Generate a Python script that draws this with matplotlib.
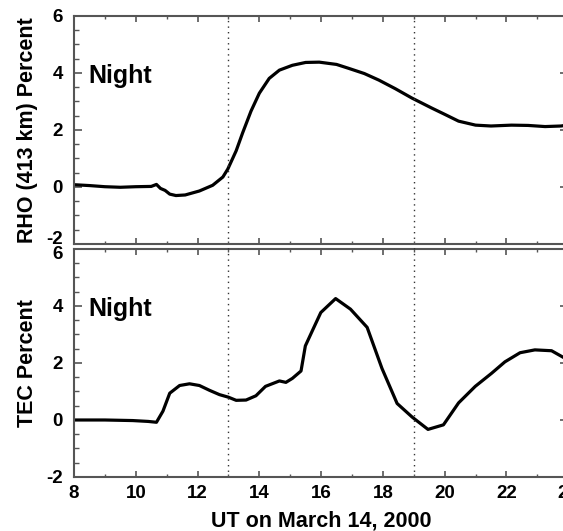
import numpy as np
import matplotlib
matplotlib.use("Agg")
import matplotlib.pyplot as plt
import matplotlib.transforms as mtransforms
from matplotlib.lines import Line2D
from matplotlib.ticker import MultipleLocator

plt.rcParams['font.family'] = ['Liberation Sans', 'DejaVu Sans']
plt.rcParams['font.weight'] = 'bold'
plt.rcParams['axes.unicode_minus'] = False

# RHO (413 km) percent change
rho_ut = [8.0, 8.5, 9.0, 9.5, 10.0, 10.5, 10.67, 10.8, 10.95, 11.1, 11.3, 11.6,
          12.06, 12.49, 12.82, 12.98, 13.25, 13.46, 13.73, 14.0, 14.32, 14.65,
          15.07, 15.5, 15.94, 16.5, 16.9, 17.4, 17.87, 18.4, 18.94, 19.58, 20.0,
          20.45, 21.0, 21.5, 22.16, 22.7, 23.25, 23.77, 24.0]
rho_pct = [0.08, 0.05, 0.01, -0.01, 0.01, 0.02, 0.09, -0.05, -0.12, -0.25, -0.3, -0.28,
           -0.14, 0.06, 0.35, 0.63, 1.27, 1.9, 2.66, 3.29, 3.81, 4.1,
           4.27, 4.37, 4.38, 4.3, 4.16, 3.98, 3.75, 3.45, 3.12, 2.77, 2.55,
           2.31, 2.17, 2.14, 2.17, 2.16, 2.12, 2.14, 2.18]

# TEC percent change
tec_ut = [8.0, 9.0, 9.9, 10.4, 10.67, 10.88, 11.1, 11.42, 11.74, 12.06, 12.39,
          12.71, 13.0, 13.25, 13.57, 13.89, 14.2, 14.65, 14.86, 15.07, 15.35,
          15.49, 15.72, 15.99, 16.47, 16.95, 17.49, 17.97, 18.46, 18.95, 19.46,
          19.96, 20.45, 20.99, 21.52, 21.95, 22.44, 22.92, 23.46, 24.0]
tec_pct = [0.0, 0.0, -0.02, -0.05, -0.08, 0.31, 0.94, 1.21, 1.27, 1.21, 1.04,
           0.89, 0.8, 0.69, 0.7, 0.85, 1.18, 1.37, 1.32, 1.46, 1.72,
           2.6, 3.14, 3.77, 4.26, 3.89, 3.25, 1.81, 0.58, 0.1, -0.33,
           -0.17, 0.6, 1.18, 1.64, 2.04, 2.36, 2.46, 2.43, 2.1]

dusk_lines = [13, 19]
ylabels = ['RHO (413 km) Percent', 'TEC Percent']

fig = plt.figure(figsize=(5.63, 5.31), dpi=100)
ax1 = fig.add_axes([0.1314, 0.5405, 0.8779, 0.4294])
ax2 = fig.add_axes([0.1314, 0.1017, 0.8779, 0.4294])

spine_col = '#555555'
for ax, ut, pct, lab in [(ax1, rho_ut, rho_pct, ylabels[0]), (ax2, tec_ut, tec_pct, ylabels[1])]:
    ax.plot(ut, pct, color='black', lw=2.3, solid_joinstyle='round')
    for xv in dusk_lines:
        ax.axvline(xv, color='#333333', lw=1.0, ls=(0, (1, 3)))
    ax.set_xlim(8, 24)
    ax.set_ylim(-1.93, 6)
    ax.set_yticks([-2, 0, 2, 4, 6])
    ax.xaxis.set_major_locator(MultipleLocator(2))
    ax.xaxis.set_minor_locator(MultipleLocator(1))
    ax.yaxis.set_minor_locator(MultipleLocator(0.5))
    ax.tick_params(axis='both', which='both', direction='in', top=True, right=True,
                   color=spine_col, labelsize=13.5)
    ax.tick_params(axis='y', which='major', length=6, width=1.2, pad=8)
    ax.tick_params(axis='y', which='minor', length=3.3, width=1.0)
    ax.tick_params(axis='x', which='major', length=4, width=1.2, pad=6)
    ax.tick_params(axis='x', which='minor', length=2.2, width=1.0)
    for s in ax.spines.values():
        s.set_color(spine_col)
        s.set_linewidth(1.5)
    ax.set_ylabel(lab, fontsize=15.5, fontweight='bold', labelpad=6)
    ax.text(8.48, 3.64, 'Night', fontsize=18, fontweight='bold')
    for t in ax.get_yticklabels() + ax.get_xticklabels():
        t.set_fontweight('bold')

ax1.tick_params(axis='x', labelbottom=False)
ax2.set_xlabel('UT on March 14, 2000', fontsize=15.5, fontweight='bold', labelpad=6)
ax1.get_yticklabels()[0].set_transform(
    ax1.get_yaxis_transform(which='tick1') + mtransforms.ScaledTranslation(-8 / 72, 6 / 100, fig.dpi_scale_trans))
ax1.get_yticklabels()[0].set_va('center_baseline')
ax2.get_yticklabels()[-1].set_transform(
    ax2.get_yaxis_transform(which='tick1') + mtransforms.ScaledTranslation(-8 / 72, -4 / 100, fig.dpi_scale_trans))

# dotted markers continue through the gap between panels
for xv in dusk_lines:
    xf = 0.1314 + 0.8779 * (xv - 8) / 16
    fig.add_artist(Line2D([xf, xf], [0.5311, 0.5405], transform=fig.transFigure,
                          color='#333333', lw=1.0, ls=(0, (1, 3))))

fig.savefig('out.png', dpi=100)
